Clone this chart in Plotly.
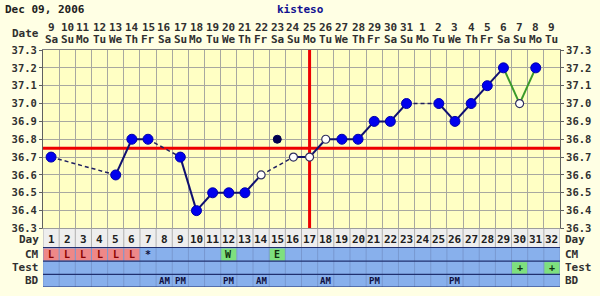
import plotly.graph_objects as go

# ---------------- data ----------------
days = list(range(1, 33))
date_nums = list(range(9, 32)) + list(range(1, 10))
weekday_cycle = ["Sa", "Su", "Mo", "Tu", "We", "Th", "Fr"]
weekdays = [weekday_cycle[i % 7] for i in range(32)]
temps = [36.7, None, None, None, 36.6, 36.8, 36.8, None, 36.7, 36.4,
         36.5, 36.5, 36.5, 36.6, 36.8, 36.7, 36.7, 36.8, 36.8, 36.8,
         36.9, 36.9, 37.0, None, 37.0, 36.9, 37.0, 37.1, 37.2, 37.0,
         37.2, None]
open_days = [14, 16, 17, 18, 30]
discarded_days = [15]
green_days = [29, 30, 31]
coverline = 36.75
ovulation_day = 17
temp_ticks = [36.3, 36.4, 36.5, 36.6, 36.7, 36.8, 36.9, 37.0, 37.1, 37.2, 37.3]
cm_days = [1, 2, 3, 4, 5, 6, 7, 12, 15]
cm_vals = ["L", "L", "L", "L", "L", "L", "*", "W", "E"]
test_days = [30, 32]
test_vals = ["+", "+"]
bd_days = [8, 9, 12, 14, 18, 21, 26]
bd_vals = ["AM", "PM", "PM", "AM", "AM", "PM", "PM"]
title_date = "Dec 09, 2006"
title_user = "kisteso"

# ---------------- style ----------------
W, H = 600, 296
ML, MR, MT, MB = 43, 40, 50, 3
PW = W - ML - MR
PH = H - MT - MB
TABLE_H = 60  # px of table below temp plot
split = TABLE_H / PH
FONT = "DejaVu Sans Mono"
BG_OUT = "#FFFFE4"
BG_PLOT = "#FFFFC4"
GRID = "#A8A8A0"
BLUE = "#0000EE"
ROW_BLUE = "#88B0EC"
TXT = "#303030"


def py(p):
    """pixel y (from top of figure) -> paper y"""
    return (H - MB - p) / PH


def px(p):
    return (p - ML) / PW


fig = go.Figure()

# coverline & ovulation line
fig.add_trace(go.Scatter(x=[0.5, 32.5], y=[coverline, coverline], mode="lines",
                         line=dict(color="#EE0000", width=3), hoverinfo="skip"))
fig.add_trace(go.Scatter(x=[ovulation_day, ovulation_day], y=[36.3, 37.3], mode="lines",
                         line=dict(color="#EE0000", width=3), hoverinfo="skip"))

# connecting segments
pts = [(d, t) for d, t in zip(days, temps) if t is not None and d not in discarded_days]
sx, sy, dx, dy, gx, gy = [], [], [], [], [], []
for (d1, t1), (d2, t2) in zip(pts[:-1], pts[1:]):
    if d1 in green_days and d2 in green_days:
        gx += [d1, d2, None]; gy += [t1, t2, None]
    elif d2 - d1 == 1:
        sx += [d1, d2, None]; sy += [t1, t2, None]
    else:
        dx += [d1, d2, None]; dy += [t1, t2, None]
fig.add_trace(go.Scatter(x=dx, y=dy, mode="lines", line=dict(color="#202060", width=1.5, dash="4px,3px")))
fig.add_trace(go.Scatter(x=sx, y=sy, mode="lines", line=dict(color="#101070", width=2)))
fig.add_trace(go.Scatter(x=gx, y=gy, mode="lines", line=dict(color="#3A9A2A", width=2)))

# markers
fx = [d for d, t in pts if d not in open_days]
fy = [t for d, t in pts if d not in open_days]
ox = [d for d, t in pts if d in open_days]
oy = [t for d, t in pts if d in open_days]
xx = [d for d, t in zip(days, temps) if d in discarded_days]
xy = [t for d, t in zip(days, temps) if d in discarded_days]
fig.add_trace(go.Scatter(x=fx, y=fy, mode="markers",
                         marker=dict(size=10, color=BLUE, line=dict(color="#0000AA", width=1))))
fig.add_trace(go.Scatter(x=ox, y=oy, mode="markers",
                         marker=dict(size=8, color="white", line=dict(color="#303060", width=1.2))))
fig.add_trace(go.Scatter(x=xx, y=xy, mode="markers",
                         marker=dict(size=8, color="#000050", line=dict(color="#000050", width=1))))
# right axis helper
fig.add_trace(go.Scatter(x=[1], y=[36.3], yaxis="y3", mode="markers", marker=dict(opacity=0),
                         hoverinfo="skip"))
# table subplot helper
fig.add_trace(go.Scatter(x=[1], y=[0], xaxis="x2", yaxis="y2", mode="markers",
                         marker=dict(opacity=0), hoverinfo="skip"))

shapes = []
annots = []
# table rows (y2 in px offset from plot bottom)
rows = {"Day": (0, 19.5), "CM": (19.5, 33.5), "Test": (33.5, 47), "BD": (47, 60)}
shapes.append(dict(type="rect", xref="x2", yref="y2", x0=0.5, x1=32.5, y0=0, y1=19.5,
                   fillcolor="#EEEEEE", line=dict(width=0), layer="below"))
shapes.append(dict(type="rect", xref="x2", yref="y2", x0=0.5, x1=32.5, y0=19.5, y1=60,
                   fillcolor=ROW_BLUE, line=dict(width=0), layer="below"))


def cell(day, r, color):
    y0, y1 = rows[r]
    shapes.append(dict(type="rect", xref="x2", yref="y2", x0=day - 0.5, x1=day + 0.5,
                       y0=y0 + 1, y1=y1 - 0.5, fillcolor=color, line=dict(width=0), layer="below"))


for d, v in zip(cm_days, cm_vals):
    if v == "L":
        cell(d, "CM", "#EE8888")
    elif v in ("W", "E"):
        cell(d, "CM", "#7EE07E")
for d in test_days:
    cell(d, "Test", "#7EE07E")

# column separators
for b in range(0, 33):
    shapes.append(dict(type="line", xref="x2", yref="y2", x0=b + 0.5, x1=b + 0.5, y0=0, y1=19.5,
                       line=dict(color="#B0B0B0", width=1)))
    shapes.append(dict(type="line", xref="x2", yref="y2", x0=b + 0.5, x1=b + 0.5, y0=19.5, y1=60,
                       line=dict(color="#7898D0", width=1)))
for yb in [19.5, 33.5, 47, 60]:
    shapes.append(dict(type="line", xref="x2", yref="y2", x0=0.5, x1=32.5, y0=yb, y1=yb,
                       line=dict(color="#203070", width=1.2)))

fbold = dict(family=FONT, size=11, color=TXT, weight="bold")
for d in days:
    annots.append(dict(x=d, y=11, xref="x2", yref="y2", text=str(d), showarrow=False,
                       xanchor="center", yanchor="middle",
                       font=dict(family=FONT, size=11, color="#202020", weight="bold")))
for d, v in zip(cm_days, cm_vals):
    col = "#8B0000" if v == "L" else "#103010" if v in ("W", "E") else "#101040"
    annots.append(dict(x=d, y=26.5, xref="x2", yref="y2", text=v, showarrow=False,
                       xanchor="center", yanchor="middle",
                       font=dict(family=FONT, size=10, color=col, weight="bold")))
for d, v in zip(test_days, test_vals):
    annots.append(dict(x=d, y=40.5, xref="x2", yref="y2", text=v, showarrow=False,
                       xanchor="center", yanchor="middle",
                       font=dict(family=FONT, size=10, color="#103010", weight="bold")))
for d, v in zip(bd_days, bd_vals):
    annots.append(dict(x=d, y=54, xref="x2", yref="y2", text=v, showarrow=False,
                       xanchor="center", yanchor="middle",
                       font=dict(family=FONT, size=9, color="#101040", weight="bold")))
for r, (y0, y1) in rows.items():
    yc = (y0 + y1) / 2 + (1.5 if r == "Day" else 0)
    annots.append(dict(x=px(41), y=yc, xref="paper", yref="y2", text=r, showarrow=False,
                       xanchor="right", yanchor="middle", font=fbold))
    annots.append(dict(x=px(563), y=yc, xref="paper", yref="y2", text=r, showarrow=False,
                       xanchor="left", yanchor="middle", font=fbold))

# date header row
for d, n, w in zip(days, date_nums, weekdays):
    annots.append(dict(x=d, y=py(27), xref="x", yref="paper", text=str(n), showarrow=False,
                       xanchor="center", yanchor="middle", font=fbold))
    annots.append(dict(x=d, y=py(39.5), xref="x", yref="paper", text=w, showarrow=False,
                       xanchor="center", yanchor="middle", font=fbold))
annots.append(dict(x=px(41), y=py(33), xref="paper", yref="paper", text="Date", showarrow=False,
                   xanchor="right", yanchor="middle", font=fbold))
annots.append(dict(x=px(3), y=py(8), xref="paper", yref="paper", text=title_date, showarrow=False,
                   xanchor="left", yanchor="middle",
                   font=dict(family=FONT, size=11, color="#202020", weight="bold")))
annots.append(dict(x=px(300), y=py(8), xref="paper", yref="paper", text=title_user, showarrow=False,
                   xanchor="center", yanchor="middle",
                   font=dict(family=FONT, size=11, color="#101090", weight="bold")))

tick_txt = [f"{v:.1f}" for v in temp_ticks]
tfont = dict(family=FONT, size=10.5, color=TXT, weight="bold")
fig.update_layout(
    width=W, height=H, margin=dict(l=ML, r=MR, t=MT, b=MB),
    paper_bgcolor=BG_OUT, plot_bgcolor=BG_PLOT, showlegend=False,
    xaxis=dict(range=[0.5, 32.5], tickvals=[b + 0.5 for b in range(33)], showticklabels=False,
               showgrid=True, gridcolor=GRID, gridwidth=1, zeroline=False, ticks="",
               showline=True, linecolor="#808080", mirror=True, anchor="y"),
    yaxis=dict(range=[36.3, 37.3], domain=[split, 1], tickvals=temp_ticks, ticktext=tick_txt,
               showgrid=True, gridcolor=GRID, gridwidth=1, zeroline=False,
               ticks="outside", ticklen=3, tickcolor="#606060",
               showline=True, linecolor="#606060", mirror=True, tickfont=tfont),
    yaxis3=dict(range=[36.3, 37.3], overlaying="y", side="right", tickvals=temp_ticks,
                ticktext=tick_txt, showgrid=False, zeroline=False, ticks="outside", ticklen=3,
                tickcolor="#606060", tickfont=tfont),
    xaxis2=dict(range=[0.5, 32.5], matches="x", visible=False, anchor="y2"),
    yaxis2=dict(range=[60, 0], domain=[0, split], visible=False, anchor="x2"),
    shapes=shapes, annotations=annots,
)
fig.write_html("out.html")
